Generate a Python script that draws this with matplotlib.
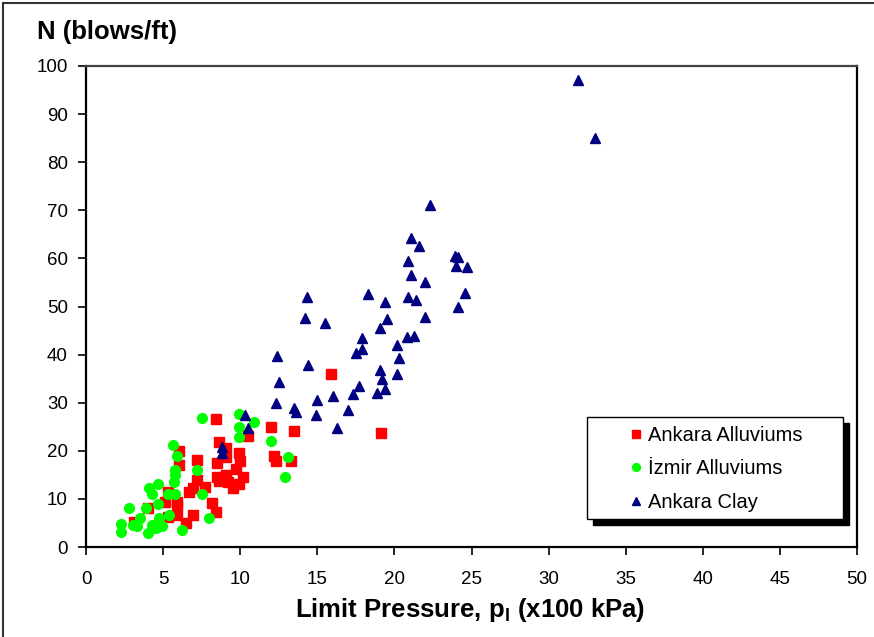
import matplotlib
matplotlib.use("Agg")
import matplotlib.pyplot as plt
from matplotlib.patches import Rectangle

plt.rcParams['font.family'] = ['Liberation Sans', 'DejaVu Sans']
plt.rcParams['mathtext.fontset'] = 'custom'
plt.rcParams['mathtext.rm'] = 'Liberation Sans'
plt.rcParams['mathtext.bf'] = 'Liberation Sans:bold'

# Ankara Alluviums: limit pressure (x100 kPa), SPT N (blows/ft)
ankara_all_pl = [15.9, 19.1, 12.0, 13.5, 8.4, 10.5, 8.6, 9.1, 12.2, 12.35, 13.3,
                 7.2, 8.5, 9.1, 9.95, 10.0, 9.75, 6.05, 6.05, 8.5, 9.05, 10.2,
                 7.2, 6.95, 7.7, 6.7, 9.2, 9.55, 9.95, 5.3, 5.9, 5.9, 5.1, 4.0,
                 8.2, 8.4, 5.9, 5.3, 6.95, 6.5, 3.1, 8.6]
ankara_all_n = [36.0, 23.7, 25.0, 24.1, 26.6, 23.0, 21.8, 20.6, 19.0, 17.9, 17.9,
                18.1, 17.5, 18.7, 19.5, 17.9, 16.2, 20.0, 17.0, 14.6, 15.0, 14.6,
                13.9, 12.3, 12.5, 11.4, 13.5, 12.3, 13.1, 11.4, 9.4, 8.5, 9.4, 8.1,
                9.1, 7.3, 6.7, 6.2, 6.7, 5.0, 5.2, 13.7]

# Izmir Alluviums
izmir_pl = [7.5, 9.95, 9.95, 10.9, 9.95, 12.0, 5.65, 5.9, 7.2, 5.8, 5.8, 5.7,
            4.1, 4.7, 4.3, 5.3, 5.8, 7.5, 2.8, 3.9, 4.7, 3.5, 4.75, 5.4,
            2.3, 2.3, 3.05, 3.3, 4.3, 4.9, 4.0, 4.55, 6.25, 8.0, 13.1, 12.9]
izmir_n = [26.8, 27.7, 25.0, 26.0, 22.9, 22.0, 21.2, 18.9, 16.0, 16.0, 15.0, 13.5,
           12.3, 13.1, 11.0, 11.0, 11.0, 11.0, 8.1, 8.1, 8.9, 6.0, 6.0, 6.7,
           4.8, 3.2, 4.6, 4.4, 4.6, 4.4, 2.9, 3.9, 3.5, 6.0, 18.7, 14.6]

# Ankara Clay
clay_pl = [31.9, 33.0, 22.3, 21.1, 21.6, 20.9, 21.1, 22.0, 23.9, 24.1, 24.0, 24.7,
           24.6, 24.1, 20.9, 21.4, 22.0, 19.4, 19.5, 19.05, 20.8, 21.3, 20.2, 20.3,
           19.05, 19.2, 20.2, 18.9, 19.4, 14.3, 14.2, 15.5, 12.4, 14.4, 12.5, 12.35,
           13.5, 13.65, 15.0, 14.9, 16.0, 16.3, 17.0, 17.3, 17.7, 17.5, 17.9, 17.9,
           18.3, 10.3, 10.5, 8.85, 8.85]
clay_n = [97.1, 85.0, 71.1, 64.2, 62.6, 59.5, 56.5, 55.1, 60.5, 60.3, 58.4, 58.2,
          52.8, 49.9, 52.0, 51.4, 47.8, 50.9, 47.4, 45.5, 43.7, 43.9, 42.0, 39.3,
          36.8, 34.9, 36.0, 32.0, 32.8, 52.0, 47.6, 46.6, 39.7, 37.8, 34.3, 29.9,
          28.9, 28.1, 30.6, 27.4, 31.4, 24.7, 28.5, 31.8, 33.5, 40.3, 41.1, 43.4,
          52.6, 27.4, 24.8, 20.8, 19.5]

x_ticks = list(range(0, 51, 5))
y_ticks = list(range(0, 101, 10))

fig = plt.figure(figsize=(8.74, 6.37), dpi=100)
ax = fig.add_axes([86 / 874, 1 - 547 / 637, 771 / 874, 481 / 637])

ax.plot(ankara_all_pl, ankara_all_n, ls='none', marker='s', ms=6.5,
        color='#FF0000', mec='#FF0000', label='Ankara Alluviums', zorder=3)
ax.plot(izmir_pl, izmir_n, ls='none', marker='o', ms=7,
        color='#00FF00', mec='#00FF00', label='İzmir Alluviums', zorder=4)
ax.plot(clay_pl, clay_n, ls='none', marker='^', ms=7.5,
        color='#000080', mec='#000080', label='Ankara Clay', zorder=5)

ax.set_xlim(0, 50)
ax.set_ylim(0, 100)
ax.set_xticks(x_ticks)
ax.set_yticks(y_ticks)
ax.tick_params(axis='both', direction='out', length=6, width=1.2,
               labelsize=13.5, colors='black')
ax.tick_params(axis='x', pad=11)
ax.tick_params(axis='y', pad=7)
for side in ['left', 'bottom', 'right']:
    ax.spines[side].set_linewidth(1.6)
    ax.spines[side].set_color('black')
ax.spines['top'].set_linewidth(1.6)
ax.spines['top'].set_color('#444444')

# legend frame with a solid drop shadow
fx, fy, fw, fh = (587 - 86) / 771, (547 - 519) / 481, 256 / 771, 102 / 481
ax.add_patch(Rectangle((fx + 6 / 771, fy - 6 / 481), fw, fh, transform=ax.transAxes,
                       facecolor='black', edgecolor='black', zorder=9, clip_on=False))
ax.add_patch(Rectangle((fx, fy), fw, fh, transform=ax.transAxes,
                       facecolor='white', edgecolor='black', lw=1.0, zorder=10,
                       clip_on=False))
leg = ax.legend(loc='upper left', bbox_to_anchor=((628 - 86) / 771, (547 - 426) / 481),
                frameon=False, fontsize=14.5, borderpad=0, borderaxespad=0,
                handlelength=0.8, handletextpad=0.2, labelspacing=0.72,
                markerscale=0.8)
leg.set_zorder(11)

fig.text(37 / 874, 1 - 32 / 637, 'N (blows/ft)', fontsize=18.5, fontweight='bold',
         ha='left', va='center')
fig.text(470 / 874, 1 - 610 / 637, r'Limit Pressure, p$_\mathbf{l}$ (x100 kPa)',
         fontsize=18.5, fontweight='bold', ha='center', va='center')

# outer chart border
fig.patches.append(Rectangle((3 / 874, -0.1), 1.2, 1.1 - 3 / 637,
                             transform=fig.transFigure, fill=False,
                             edgecolor='#333333', lw=1.5))

fig.savefig('out.png', dpi=100)
